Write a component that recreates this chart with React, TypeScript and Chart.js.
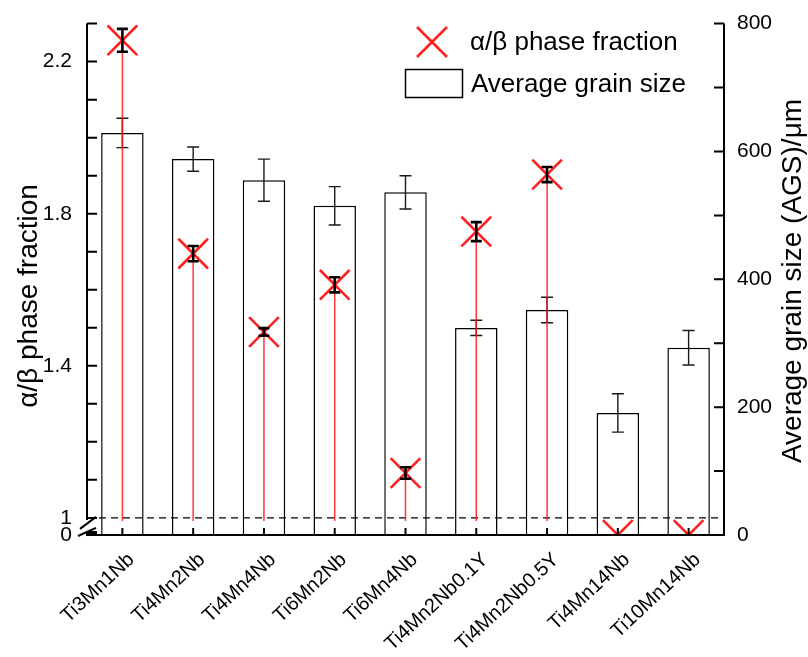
import React, { useEffect, useRef } from 'react';
import { Chart, registerables } from 'chart.js';

Chart.register(...registerables);

// ---- data ----
const categories = [
  'Ti3Mn1Nb',
  'Ti4Mn2Nb',
  'Ti4Mn4Nb',
  'Ti6Mn2Nb',
  'Ti6Mn4Nb',
  'Ti4Mn2Nb0.1Y',
  'Ti4Mn2Nb0.5Y',
  'Ti4Mn14Nb',
  'Ti10Mn14Nb',
];
const phaseFraction = [2.256, 1.695, 1.489, 1.613, 1.118, 1.753, 1.903, 0, 0];
const phaseFractionErr = [0.03, 0.02, 0.01, 0.02, 0.015, 0.025, 0.02, 0, 0];
const grainSize = [629, 588, 555, 515, 536, 324, 352, 191, 293];
const grainSizeErr = [23, 19, 33, 30, 26, 12, 20, 30, 27];

// ---- axis ticks ----
const leftMinorTicks = [1.0, 1.1, 1.2, 1.3, 1.4, 1.5, 1.6, 1.7, 1.8, 1.9, 2.0, 2.1, 2.2, 2.3];
const leftLabelTicks = [1, 1.4, 1.8, 2.2];
const rightMinorTicks = [0, 100, 200, 300, 400, 500, 600, 700, 800];
const rightLabelTicks = [0, 200, 400, 600, 800];

// Broken left axis: 0..1 is squeezed into a short strip below the break.
const LEFT_MAX = 2.3;
const BREAK_BOTTOM = 0.955;
const toBroken = (v: number) => (v >= 1 ? v : BREAK_BOTTOM + v * (1 - BREAK_BOTTOM));

const FONT = '"Liberation Sans", Arial, Helvetica, sans-serif';
const RED = '#ff2020';

const decorations = {
  id: 'decorations',
  beforeDatasetDraw(chart: any, args: any) {
    if (args.index !== 1) return;
    const { ctx, chartArea: area } = chart;
    const x = chart.scales.x;
    const yL = chart.scales.yL;
    const yR = chart.scales.yR;
    ctx.save();

    // error bars on grain size bars
    ctx.strokeStyle = '#1a1a1a';
    ctx.lineWidth = 1.4;
    grainSize.forEach((v, i) => {
      const cx = x.getPixelForValue(i);
      const t = yR.getPixelForValue(v + grainSizeErr[i]);
      const b = yR.getPixelForValue(v - grainSizeErr[i]);
      ctx.beginPath();
      ctx.moveTo(cx, t);
      ctx.lineTo(cx, b);
      ctx.moveTo(cx - 6, t);
      ctx.lineTo(cx + 6, t);
      ctx.moveTo(cx - 6, b);
      ctx.lineTo(cx + 6, b);
      ctx.stroke();
    });

    // dashed reference line at phase fraction = 1
    const y1 = yL.getPixelForValue(1);
    ctx.setLineDash([7, 5]);
    ctx.lineWidth = 1.2;
    ctx.strokeStyle = '#000';
    ctx.beginPath();
    ctx.moveTo(area.left, y1);
    ctx.lineTo(area.right, y1);
    ctx.stroke();
    ctx.setLineDash([]);

    // drop lines from phase fraction markers
    ctx.strokeStyle = 'rgba(255,20,20,0.85)';
    ctx.lineWidth = 1.5;
    phaseFraction.forEach((v, i) => {
      if (v < 1) return;
      const cx = x.getPixelForValue(i);
      ctx.beginPath();
      ctx.moveTo(cx, yL.getPixelForValue(toBroken(v)));
      ctx.lineTo(cx, y1 + 3);
      ctx.stroke();
    });
    ctx.restore();
  },
  afterDatasetsDraw(chart: any) {
    const { ctx } = chart;
    const x = chart.scales.x;
    const yL = chart.scales.yL;
    ctx.save();
    ctx.strokeStyle = '#000';
    ctx.lineWidth = 2.6;
    phaseFraction.forEach((v, i) => {
      const e = phaseFractionErr[i];
      if (!e) return;
      const cx = x.getPixelForValue(i);
      const t = yL.getPixelForValue(toBroken(v + e));
      const b = yL.getPixelForValue(toBroken(v - e));
      ctx.beginPath();
      ctx.moveTo(cx, t);
      ctx.lineTo(cx, b);
      ctx.moveTo(cx - 5.5, t);
      ctx.lineTo(cx + 5.5, t);
      ctx.moveTo(cx - 5.5, b);
      ctx.lineTo(cx + 5.5, b);
      ctx.stroke();
    });
    ctx.restore();
  },
  afterDraw(chart: any) {
    const { ctx, chartArea: area } = chart;
    const x = chart.scales.x;
    const yL = chart.scales.yL;
    const yR = chart.scales.yR;
    const y1 = yL.getPixelForValue(1);
    ctx.save();
    ctx.strokeStyle = '#000';
    ctx.fillStyle = '#000';
    ctx.lineWidth = 2;
    ctx.lineCap = 'butt';

    // left axis (upper segment) with inward ticks
    ctx.beginPath();
    ctx.moveTo(area.left, area.top);
    ctx.lineTo(area.left, y1 + 2);
    leftMinorTicks.forEach((v) => {
      const py = yL.getPixelForValue(v);
      ctx.moveTo(area.left, py);
      ctx.lineTo(area.left + 10, py);
    });
    ctx.stroke();

    // axis break marks and stub below the break
    ctx.beginPath();
    ctx.moveTo(area.left - 7, y1 + 11);
    ctx.lineTo(area.left + 9, y1 - 1);
    ctx.moveTo(area.left - 9, area.bottom + 1);
    ctx.lineTo(area.left + 9, y1 + 10);
    ctx.stroke();
    ctx.fillRect(area.left - 1, area.bottom - 4, 11, 5);

    // right axis with inward ticks
    ctx.beginPath();
    ctx.moveTo(area.right, area.top);
    ctx.lineTo(area.right, area.bottom);
    rightMinorTicks.forEach((v) => {
      const py = yR.getPixelForValue(v);
      ctx.moveTo(area.right, py);
      ctx.lineTo(area.right - 10, py);
    });
    ctx.stroke();

    // bottom axis with upward category ticks
    ctx.beginPath();
    ctx.moveTo(area.left - 1, area.bottom);
    ctx.lineTo(area.right + 1, area.bottom);
    categories.forEach((_, i) => {
      const px = x.getPixelForValue(i);
      ctx.moveTo(px, area.bottom);
      ctx.lineTo(px, area.bottom - 7);
    });
    ctx.stroke();

    // axis titles
    ctx.fillStyle = '#000';
    ctx.textAlign = 'center';
    ctx.textBaseline = 'middle';
    ctx.font = `28px ${FONT}`;
    ctx.save();
    ctx.translate(29, 296);
    ctx.rotate(-Math.PI / 2);
    ctx.fillText('\u03b1/\u03b2 phase fraction', 0, 0);
    ctx.restore();
    ctx.save();
    ctx.translate(793, 281);
    ctx.rotate(-Math.PI / 2);
    ctx.fillText('Average grain size (AGS)/\u03bcm', 0, 0);
    ctx.restore();

    // legend
    ctx.strokeStyle = RED;
    ctx.lineWidth = 2.6;
    ctx.beginPath();
    ctx.moveTo(417, 27);
    ctx.lineTo(447, 57);
    ctx.moveTo(447, 27);
    ctx.lineTo(417, 57);
    ctx.stroke();
    ctx.strokeStyle = '#000';
    ctx.lineWidth = 1.5;
    ctx.strokeRect(405.5, 69.5, 57, 28);
    ctx.font = `26px ${FONT}`;
    ctx.textAlign = 'left';
    ctx.fillText('\u03b1/\u03b2 phase fraction', 470, 43);
    ctx.fillText('Average grain size', 471, 85);
    ctx.restore();
  },
};

export default function App() {
  const canvasRef = useRef<HTMLCanvasElement | null>(null);

  useEffect(() => {
    const canvas = canvasRef.current;
    if (!canvas) return;
    const chart = new Chart(canvas, {
      type: 'bar',
      data: {
        labels: categories,
        datasets: [
          {
            type: 'bar',
            label: 'Average grain size',
            data: grainSize,
            yAxisID: 'yR',
            backgroundColor: '#ffffff',
            borderColor: '#000000',
            borderWidth: 1.5,
            barPercentage: 0.6,
            categoryPercentage: 1,
            order: 2,
          } as any,
          {
            type: 'line',
            label: '\u03b1/\u03b2 phase fraction',
            data: phaseFraction.map(toBroken),
            yAxisID: 'yL',
            showLine: false,
            pointStyle: 'crossRot',
            pointRadius: 21,
            pointBorderColor: RED,
            pointBackgroundColor: 'rgba(0,0,0,0)',
            pointBorderWidth: 2.6,
            order: 1,
          } as any,
        ],
      },
      options: {
        responsive: false,
        animation: false,
        devicePixelRatio: 1,
        layout: { padding: { top: 22, left: 0, right: 0, bottom: 0 } },
        plugins: {
          legend: { display: false },
          tooltip: { enabled: false },
        },
        events: [],
        scales: {
          x: {
            type: 'category',
            offset: true,
            grid: { display: false, drawTicks: false, tickLength: 0 },
            border: { display: false },
            ticks: {
              color: '#000',
              font: { size: 20, family: FONT },
              minRotation: 43,
              maxRotation: 43,
              autoSkip: false,
              padding: 13,
              labelOffset: 9,
            },
            afterFit: (s: any) => {
              s.height = 122;
            },
          },
          yL: {
            type: 'linear',
            position: 'left',
            min: BREAK_BOTTOM,
            max: LEFT_MAX,
            grid: { display: false, drawTicks: true, tickLength: 14 },
            border: { display: false },
            afterBuildTicks: (s: any) => {
              s.ticks = [BREAK_BOTTOM, ...leftLabelTicks].map((v) => ({ value: v }));
            },
            ticks: {
              color: '#000',
              font: { size: 21, family: FONT },
              padding: 1,
              autoSkip: false,
              callback: (v: any) => (v === BREAK_BOTTOM ? '0' : String(v)),
            },
            afterFit: (s: any) => {
              s.width = 87;
            },
          },
          yR: {
            type: 'linear',
            position: 'right',
            min: 0,
            max: 800,
            grid: { display: false, drawTicks: true, tickLength: 12 },
            border: { display: false },
            afterBuildTicks: (s: any) => {
              s.ticks = rightLabelTicks.map((v) => ({ value: v }));
            },
            ticks: {
              color: '#000',
              font: { size: 21, family: FONT },
              padding: 1,
              autoSkip: false,
            },
            afterFit: (s: any) => {
              s.width = 84;
            },
          },
        },
      } as any,
      plugins: [decorations],
    });
    return () => chart.destroy();
  }, []);

  return (
    <div style={{ position: 'fixed', left: 0, top: 0, width: 808, height: 657, background: '#fff' }}>
      <canvas ref={canvasRef} width={808} height={657} style={{ display: 'block' }} />
    </div>
  );
}
